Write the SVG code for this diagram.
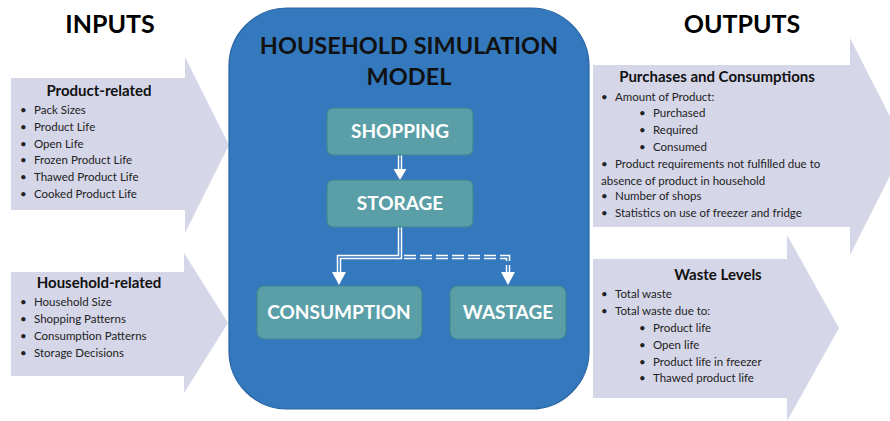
<svg xmlns="http://www.w3.org/2000/svg" width="890" height="421" viewBox="0 0 890 421">
<style>
.arrow{fill:#d5d6e8}
.hdr{font-family:Lato,"Open Sans",sans-serif;font-size:25px;font-weight:bold;fill:#000;text-anchor:middle}
.title{font-family:Lato,"Open Sans",sans-serif;font-size:23.5px;font-weight:bold;fill:#111;text-anchor:middle}
.box{fill:#5a9fa8;stroke:#3f8792;stroke-width:1.2}
.btxt{font-family:Lato,"Open Sans",sans-serif;font-weight:bold;fill:#fff;text-anchor:middle}
.h{font-family:Lato,"Open Sans",sans-serif;font-size:15px;font-weight:bold;fill:#111;text-anchor:middle}
.t{font-family:Lato,"Open Sans",sans-serif;font-size:11.5px;fill:#222}
.w{fill:none;stroke:#fff;stroke-width:4.5}
.i{fill:none;stroke:#3479be;stroke-width:1.5}
.d{stroke-dasharray:12 4}
</style>
<rect width="890" height="421" fill="#fff"/>
<text class="hdr" x="110" y="33">INPUTS</text>
<text class="hdr" x="742" y="33">OUTPUTS</text>

<g id="input-product">
<polygon class="arrow" points="11,78 185,78 185,57 229,145 185,233 185,210 11,210"/>
<text class="h" x="99" y="96">Product-related</text>
<g class="t">
<text x="20" y="114">•</text><text x="34" y="114">Pack Sizes</text>
<text x="20" y="131">•</text><text x="34" y="131">Product Life</text>
<text x="20" y="148">•</text><text x="34" y="148">Open Life</text>
<text x="20" y="164">•</text><text x="34" y="164">Frozen Product Life</text>
<text x="20" y="181">•</text><text x="34" y="181">Thawed Product Life</text>
<text x="20" y="198">•</text><text x="34" y="198">Cooked Product Life</text>
</g>
</g>

<g id="input-household">
<polygon class="arrow" points="11,272 184,272 184,253 228,323 184,393 184,376 11,376"/>
<text class="h" x="99" y="288">Household-related</text>
<g class="t">
<text x="20" y="306">•</text><text x="34" y="306">Household Size</text>
<text x="20" y="323">•</text><text x="34" y="323">Shopping Patterns</text>
<text x="20" y="340">•</text><text x="34" y="340">Consumption Patterns</text>
<text x="20" y="357">•</text><text x="34" y="357">Storage Decisions</text>
</g>
</g>

<g id="output-purchases">
<polygon class="arrow" points="593,65 850,65 850,38 905,146 850,255 850,227 593,227"/>
<text class="h" x="717" y="82">Purchases and Consumptions</text>
<g class="t">
<text x="601" y="101">•</text><text x="615" y="101">Amount of Product:</text>
<text x="639" y="117">•</text><text x="653" y="117">Purchased</text>
<text x="639" y="134">•</text><text x="653" y="134">Required</text>
<text x="639" y="151">•</text><text x="653" y="151">Consumed</text>
<text x="601" y="168">•</text><text x="615" y="168">Product requirements not fulfilled due to</text>
<text x="601" y="185">absence of product in household</text>
<text x="601" y="200">•</text><text x="615" y="200">Number of shops</text>
<text x="601" y="217">•</text><text x="615" y="217">Statistics on use of freezer and fridge</text>
</g>
</g>

<g id="output-waste">
<polygon class="arrow" points="593,259 787,259 787,235 839,328 787,421 787,398 593,398"/>
<text class="h" x="718" y="280">Waste Levels</text>
<g class="t">
<text x="601" y="298">•</text><text x="615" y="298">Total waste</text>
<text x="601" y="315">•</text><text x="615" y="315">Total waste due to:</text>
<text x="639" y="332">•</text><text x="653" y="332">Product life</text>
<text x="639" y="349">•</text><text x="653" y="349">Open life</text>
<text x="639" y="366">•</text><text x="653" y="366">Product life in freezer</text>
<text x="639" y="382">•</text><text x="653" y="382">Thawed product life</text>
</g>
</g>

<g id="model">
<rect x="229" y="8" width="360" height="401" rx="58" ry="58" fill="#3479be" stroke="#2a65a3" stroke-width="1.2"/>
<text class="title" x="409" y="54">HOUSEHOLD SIMULATION</text>
<text class="title" x="409" y="85">MODEL</text>
</g>

<g id="connectors">
<path class="w" d="M400,155 V171"/>
<path class="i" d="M400,155 V171"/>
<polygon points="393.5,169 406.5,169 400,180" fill="#fff"/>
<path class="w" d="M400,227 V257 H339 V274"/>
<path class="i" d="M400,227 V257 H339 V274"/>
<polygon points="332,272 346,272 339,285" fill="#fff"/>
<path class="w d" d="M404,257 H508 V274"/>
<path class="i d" d="M404,257 H508 V274"/>
<polygon points="501,272 515,272 508,285" fill="#fff"/>
</g>

<g id="shopping">
<rect class="box" x="327" y="108" width="146" height="47" rx="6"/>
<text class="btxt" x="400" y="138" font-size="19">SHOPPING</text>
</g>
<g id="storage">
<rect class="box" x="327" y="180" width="146" height="47" rx="6"/>
<text class="btxt" x="400" y="210" font-size="19">STORAGE</text>
</g>
<g id="consumption">
<rect class="box" x="257" y="286" width="165" height="53" rx="7"/>
<text class="btxt" x="339" y="319" font-size="19">CONSUMPTION</text>
</g>
<g id="wastage">
<rect class="box" x="450" y="286" width="116" height="53" rx="7"/>
<text class="btxt" x="508" y="319" font-size="19">WASTAGE</text>
</g>
</svg>
